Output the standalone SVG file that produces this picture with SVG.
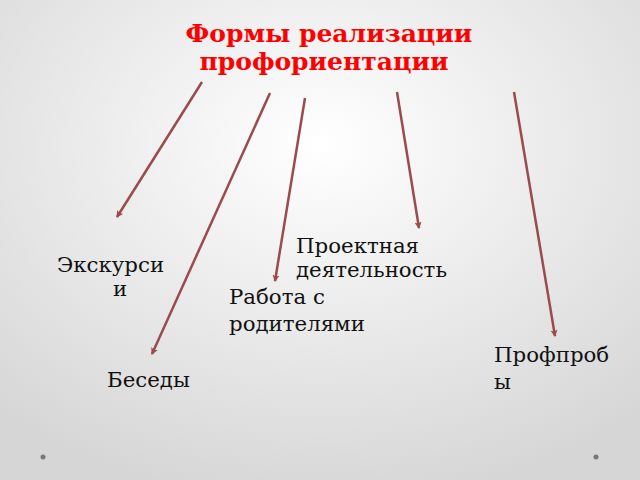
<svg xmlns="http://www.w3.org/2000/svg" width="640" height="480" viewBox="0 0 640 480">
<defs>
<radialGradient id="bg" cx="50%" cy="30%" r="75%">
<stop offset="0" stop-color="#ffffff"/>
<stop offset="1" stop-color="#d6d6d6"/>
</radialGradient>
<marker id="ah" markerWidth="8" markerHeight="8" refX="6" refY="4" orient="auto" markerUnits="userSpaceOnUse">
<path d="M0,0.5 L7,4 L0,7.5 L1.5,4 Z" fill="#9b4b4b"/>
</marker>
<style>
.t{font-family:"DejaVu Serif",serif;font-size:21.3px;fill:#111}
.title{font-family:"DejaVu Serif",serif;font-size:25px;font-weight:bold;fill:#ff0000}
.c{stroke:#9b4b4b;stroke-width:2.5;fill:none;marker-end:url(#ah)}
</style>
</defs>
<rect width="640" height="480" fill="url(#bg)"/>
<g id="title">
<text class="title" x="329" y="42" text-anchor="middle">Формы реализации</text>
<text class="title" x="324" y="70" text-anchor="middle">профориентации</text>
</g>
<g id="connectors">
<line class="c" x1="202" y1="82" x2="117" y2="217"/>
<line class="c" x1="270" y1="93" x2="152" y2="354"/>
<line class="c" x1="305" y1="98" x2="275" y2="281"/>
<line class="c" x1="397" y1="92" x2="419" y2="228"/>
<line class="c" x1="514" y1="92" x2="555" y2="336"/>
</g>
<g id="n-excursions">
<text class="t" x="57" y="272">Экскурси</text>
<text class="t" x="120" y="296" text-anchor="middle">и</text>
</g>
<g id="n-talks">
<text class="t" x="107" y="387">Беседы</text>
</g>
<g id="n-parents">
<text class="t" x="229" y="304">Работа с</text>
<text class="t" x="229" y="331">родителями</text>
</g>
<g id="n-project">
<text class="t" x="296" y="253">Проектная</text>
<text class="t" x="296" y="277">деятельность</text>
</g>
<g id="n-trials">
<text class="t" x="494" y="362">Профпроб</text>
<text class="t" x="494" y="389">ы</text>
</g>
<circle cx="43" cy="457" r="2.5" fill="#777"/>
<circle cx="596" cy="457" r="2.5" fill="#777"/>
</svg>
